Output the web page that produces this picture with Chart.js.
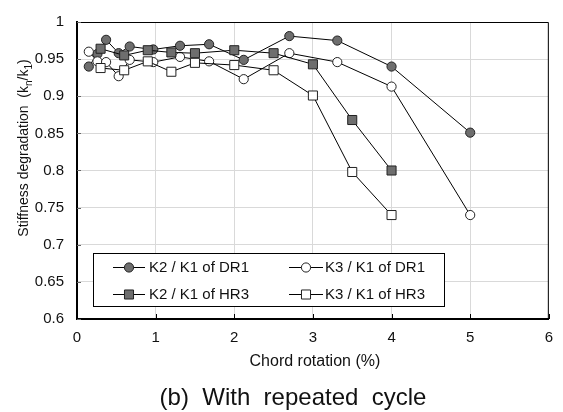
<!DOCTYPE html>
<html><head><meta charset="utf-8">
<script src="https://cdn.jsdelivr.net/npm/chart.js@4/dist/chart.umd.min.js"></script>
<style>html,body{margin:0;padding:0;background:#fff;overflow:hidden}</style>
</head><body>
<canvas id="c" width="563" height="412"></canvas>
<script>
// ---- data ----
const xTicks = [0, 1, 2, 3, 4, 5, 6];
const yTicks = [0.6, 0.65, 0.7, 0.75, 0.8, 0.85, 0.9, 0.95, 1];

const dr1Rotation = [0.15, 0.26, 0.37, 0.53, 0.67, 0.97, 1.31, 1.68, 2.12, 2.70, 3.31, 4.00, 5.00];
const dr1K2 = [0.940, 0.957, 0.976, 0.958, 0.967, 0.963, 0.968, 0.970, 0.949, 0.981, 0.975, 0.940, 0.851];
const dr1K3 = [0.960, 0.947, 0.946, 0.927, 0.949, 0.946, 0.953, 0.947, 0.923, 0.958, 0.946, 0.913, 0.740];

const hr3Rotation = [0.3, 0.6, 0.9, 1.2, 1.5, 2.0, 2.5, 3.0, 3.5, 4.0];
const hr3K2 = [0.964, 0.955, 0.962, 0.959, 0.958, 0.962, 0.958, 0.943, 0.868, 0.800];
const hr3K3 = [0.938, 0.935, 0.947, 0.933, 0.945, 0.942, 0.935, 0.901, 0.798, 0.740];

const seriesNames = ['K2 / K1 of DR1', 'K3 / K1 of DR1', 'K2 / K1 of HR3', 'K3 / K1 of HR3'];
const xTitle = 'Chord rotation (%)';
const caption = '(b)  With  repeated  cycle';

const FONT = '"Liberation Sans", Arial, sans-serif';
const GRAY = '#6e6e6e';
Chart.defaults.font.family = FONT;
Chart.defaults.font.size = 15;

const pts = (xs, ys) => xs.map((x, i) => ({x: x, y: ys[i]}));

function ds(label, data, style, fill, order) {
  return {
    label: label, data: data, showLine: true,
    borderColor: '#000', borderWidth: 1,
    pointStyle: style, pointRadius: style === 'rect' ? 6.4 : 4.6,
    pointBackgroundColor: fill, pointBorderColor: '#222', pointBorderWidth: 1,
    order: order
  };
}

const styles = [
  {style: 'circle', fill: GRAY},
  {style: 'circle', fill: '#fff'},
  {style: 'rect', fill: GRAY},
  {style: 'rect', fill: '#fff'}
];

const decor = {
  id: 'decor',
  afterDraw(chart) {
    const ctx = chart.ctx;
    const a = chart.chartArea;
    const xs = chart.scales.x, ys = chart.scales.y;
    ctx.save();
    // top & right frame
    ctx.strokeStyle = '#000'; ctx.lineWidth = 1;
    ctx.beginPath();
    ctx.moveTo(a.left, a.top + 0.5); ctx.lineTo(a.right - 0.5, a.top + 0.5); ctx.lineTo(a.right - 0.5, a.bottom);
    ctx.stroke();
    // inward tick marks
    ctx.strokeStyle = '#000';
    xTicks.forEach(v => {
      const px = Math.round(xs.getPixelForValue(v)) + 0.5;
      ctx.beginPath(); ctx.moveTo(px, a.bottom); ctx.lineTo(px, a.bottom - 5); ctx.stroke();
    });
    ctx.strokeStyle = '#666';
    yTicks.forEach(v => {
      const py = Math.round(ys.getPixelForValue(v)) + 0.5;
      ctx.beginPath(); ctx.moveTo(a.left, py); ctx.lineTo(a.left + 4, py); ctx.stroke();
    });

    // legend
    const bx = 93.5, by = 253.5, bw = 351, bh = 53;
    ctx.fillStyle = '#fff'; ctx.fillRect(bx, by, bw, bh);
    ctx.strokeStyle = '#000'; ctx.lineWidth = 1; ctx.strokeRect(bx, by, bw, bh);
    const cols = [{l: 113, r: 145, t: 149}, {l: 289, r: 323, t: 325}];
    const rows = [267, 294];
    const H = Chart.helpers;
    seriesNames.forEach((name, i) => {
      const c = cols[i % 2], y = rows[Math.floor(i / 2)];
      ctx.strokeStyle = '#000'; ctx.lineWidth = 1;
      ctx.beginPath(); ctx.moveTo(c.l, y + 0.5); ctx.lineTo(c.r, y + 0.5); ctx.stroke();
      const st = styles[i];
      ctx.fillStyle = st.fill; ctx.strokeStyle = '#222'; ctx.lineWidth = 1;
      H.drawPoint(ctx, {pointStyle: st.style, radius: st.style === 'rect' ? 6.4 : 4.6, borderWidth: 1, rotation: 0}, (c.l + c.r) / 2, y + 0.5);
      ctx.fillStyle = '#111';
      ctx.font = '15px ' + FONT;
      ctx.textAlign = 'left'; ctx.textBaseline = 'middle';
      ctx.fillText(name, c.t, y + 1);
    });

    // x title
    ctx.fillStyle = '#111';
    ctx.font = '16px ' + FONT;
    ctx.textAlign = 'center'; ctx.textBaseline = 'middle';
    ctx.fillText(xTitle, (a.left + a.right) / 2 + 2, 362);

    // caption
    ctx.font = '24px ' + FONT;
    ctx.fillText(caption, 293, 398);

    // y title with subscripts (rotated)
    ctx.translate(23, 148);
    ctx.rotate(-Math.PI / 2);
    const parts = [
      {t: 'Stiffness degradation  (k', s: 14, dy: 0},
      {t: 'n', s: 10, dy: 4},
      {t: '/k', s: 14, dy: 0},
      {t: '1', s: 10, dy: 4},
      {t: ')', s: 14, dy: 0}
    ];
    let total = 0;
    parts.forEach(p => { ctx.font = p.s + 'px ' + FONT; p.w = ctx.measureText(p.t).width; total += p.w; });
    let cx = -total / 2;
    ctx.textAlign = 'left'; ctx.textBaseline = 'alphabetic';
    parts.forEach(p => {
      ctx.font = p.s + 'px ' + FONT;
      ctx.fillText(p.t, cx, 5 + p.dy);
      cx += p.w;
    });
    ctx.restore();
  }
};

new Chart(document.getElementById('c'), {
  type: 'scatter',
  data: {
    datasets: [
      ds(seriesNames[0], pts(dr1Rotation, dr1K2), 'circle', GRAY, 4),
      ds(seriesNames[1], pts(dr1Rotation, dr1K3), 'circle', '#fff', 3),
      ds(seriesNames[2], pts(hr3Rotation, hr3K2), 'rect', GRAY, 2),
      ds(seriesNames[3], pts(hr3Rotation, hr3K3), 'rect', '#fff', 1)
    ]
  },
  options: {
    responsive: false, animation: false, events: [],
    layout: {padding: {top: 15, right: 12, left: 0, bottom: 0}},
    plugins: {legend: {display: false}, tooltip: {enabled: false}, title: {display: false}},
    scales: {
      x: {
        type: 'linear', min: 0, max: 6,
        afterBuildTicks: s => { s.ticks = xTicks.map(v => ({value: v})); },
        afterFit: s => { s.height = 93; },
        ticks: {font: {size: 15, family: FONT}, color: '#111', padding: 10, callback: v => String(v)},
        grid: {color: '#d9d9d9', lineWidth: 1, drawTicks: false},
        border: {display: true, color: '#000', width: 2}
      },
      y: {
        type: 'linear', min: 0.6, max: 1,
        afterBuildTicks: s => { s.ticks = yTicks.map(v => ({value: v})); },
        afterFit: s => { s.width = 77; },
        ticks: {font: {size: 15, family: FONT}, color: '#111', padding: 13, callback: v => String(+v.toFixed(2))},
        grid: {color: '#d9d9d9', lineWidth: 1, drawTicks: false},
        border: {display: true, color: '#000', width: 2}
      }
    }
  },
  plugins: [decor]
});
</script>
</body></html>
